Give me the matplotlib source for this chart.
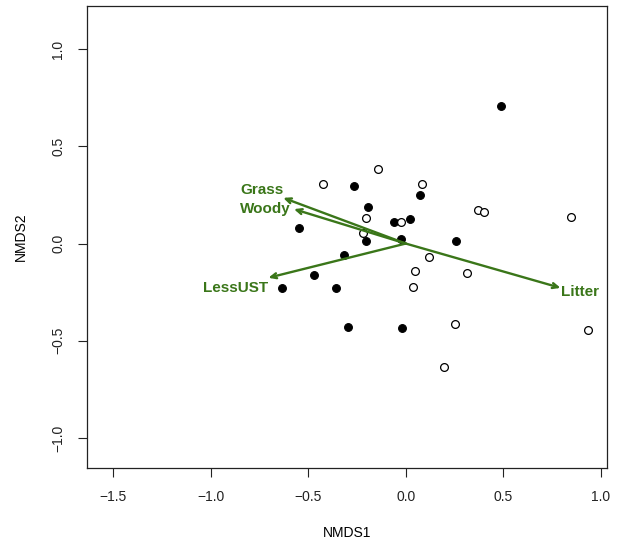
#!/usr/bin/env python3
"""NMDS ordination with envfit arrows, redrawn to out.png."""

import matplotlib.pyplot as plt

plt.rcParams["font.family"] = ["Liberation Sans", "DejaVu Sans"]

# site scores, two groups (filled / open symbols)
filled_x = [0.490, -0.267, -0.195, 0.071, -0.062, 0.020, -0.546, -0.206,
            -0.025, 0.256, -0.318, -0.469, -0.636, -0.358, -0.295, -0.021]
filled_y = [0.706, 0.297, 0.189, 0.250, 0.111, 0.126, 0.080, 0.014,
            0.022, 0.012, -0.061, -0.162, -0.227, -0.227, -0.431, -0.434]
open_x = [-0.142, -0.423, 0.081, -0.205, -0.025, -0.218, 0.372, 0.402,
          0.848, 0.117, 0.047, 0.313, 0.035, 0.254, 0.196, 0.933]
open_y = [0.383, 0.304, 0.304, 0.131, 0.111, 0.052, 0.174, 0.160,
          0.139, -0.068, -0.140, -0.150, -0.222, -0.412, -0.637, -0.445]

# environmental vectors
vec_names = ["Grass", "Woody", "LessUST", "Litter"]
vec_x = [-0.628, -0.573, -0.704, 0.793]
vec_y = [0.235, 0.177, -0.176, -0.228]
label_x = [-0.739, -0.719, -0.872, 0.892]
label_y = [0.275, 0.176, -0.229, -0.249]

x_ticks = [-1.5, -1.0, -0.5, 0.0, 0.5, 1.0]
y_ticks = [-1.0, -0.5, 0.0, 0.5, 1.0]

GREEN = "#3a7619"

fig = plt.figure(figsize=(6.18, 5.49), dpi=100)
ax = fig.add_axes([0.1408, 0.1475, 0.8414, 0.8415])

ax.plot(filled_x, filled_y, "o", ms=5.6, mfc="black", mec="black", mew=0.8)
ax.plot(open_x, open_y, "o", ms=5.6, mfc="white", mec="black", mew=0.9)

for name, vx, vy, lx, ly in zip(vec_names, vec_x, vec_y, label_x, label_y):
    ax.annotate("", xy=(vx, vy), xytext=(0, 0),
                arrowprops=dict(arrowstyle="->,head_length=0.4,head_width=0.18",
                                color=GREEN, lw=1.7, shrinkA=0, shrinkB=0))
    ax.text(lx, ly, name, color=GREEN, fontsize=11, fontweight="bold",
            ha="center", va="center")

ax.set_xlim(-1.633, 1.031)
ax.set_ylim(-1.154, 1.221)
ax.set_xticks(x_ticks)
ax.set_yticks(y_ticks)
ax.set_xticklabels([f"{t:.1f}".replace("-", "\u2212") for t in x_ticks])
ax.set_yticklabels([f"{t:.1f}".replace("-", "\u2212") for t in y_ticks],
                   rotation=90, va="center")
ax.tick_params(direction="out", length=6.5, width=0.8, labelsize=10,
               pad=9, colors="#222222")
ax.set_xlabel("NMDS1", fontsize=10, labelpad=16)
ax.set_ylabel("NMDS2", fontsize=10, labelpad=17)
for sp in ax.spines.values():
    sp.set_linewidth(0.9)
    sp.set_color("#222222")

fig.savefig("out.png", dpi=100)
